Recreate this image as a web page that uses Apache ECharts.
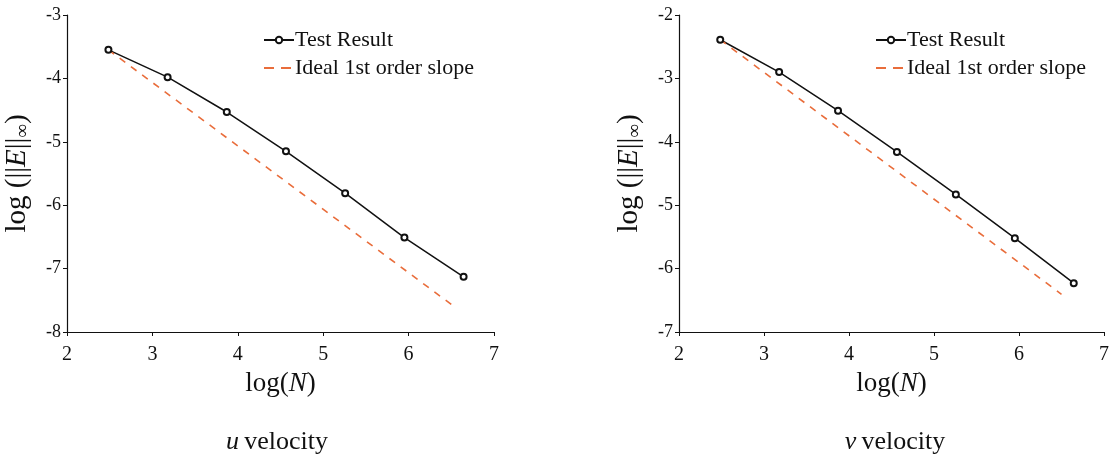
<!DOCTYPE html>
<html>
<head>
<meta charset="utf-8">
<script src="https://cdn.jsdelivr.net/npm/echarts@6/dist/echarts.min.js"></script>
<style>
  html, body { margin: 0; padding: 0; background: #ffffff; }
  #main { width: 1112px; height: 456px; }
</style>
</head>
<body>
<div id="main"></div>
<script>
// log(N) for N = 12, 24, 48, ... 768
var logN = [2.485, 3.178, 3.871, 4.564, 5.257, 5.951, 6.644];
// max error, u velocity
var uErr = [-3.55, -3.98, -4.53, -5.15, -5.81, -6.51, -7.13];
// max error, v velocity
var vErr = [-2.39, -2.90, -3.51, -4.16, -4.83, -5.52, -6.23];
// ideal 1st order reference lines
var slopeX = [2.485, 6.5];
var uSlope = [-3.55, -7.565];
var vSlope = [-2.39, -6.405];

var seriesNames = ["Test Result", "Ideal 1st order slope"];
var panelTitles = ["u", "v"];

var font = "Liberation Serif";
var black = "#111111";
var orange = "#E96D3B";

function pairs(xs, ys) {
    var out = [];
    for (var i = 0; i < xs.length; i++) {
        out.push([xs[i], ys[i]]);
    }
    return out;
}

function xAxisFor(idx) {
    return {
        gridIndex: idx,
        type: "value",
        min: 2,
        max: 7,
        interval: 1,
        name: "{n|log(}{i|N}{n|)}",
        nameLocation: "middle",
        nameGap: 38,
        nameTextStyle: {
            rich: {
                n: { fontFamily: font, fontSize: 27, color: black },
                i: { fontFamily: font, fontSize: 27, fontStyle: "italic", color: black }
            }
        },
        axisLine: { lineStyle: { color: black, width: 1.2 } },
        axisTick: { show: true, length: 4, lineStyle: { color: black } },
        axisLabel: { fontFamily: font, fontSize: 20, color: black, margin: 13 },
        splitLine: { show: false }
    };
}

function yAxisFor(idx, min, max) {
    return {
        gridIndex: idx,
        type: "value",
        min: min,
        max: max,
        interval: 1,
        name: "{n|log (||}{i|E}{n|||}{s|∞}{n|)}",
        nameLocation: "middle",
        nameGap: 34,
        nameTextStyle: {
            rich: {
                n: { fontFamily: font, fontSize: 29, color: black },
                i: { fontFamily: font, fontSize: 29, fontStyle: "italic", color: black },
                s: { fontFamily: font, fontSize: 19, color: black, padding: [12, 0, 0, 0] }
            }
        },
        axisLine: { show: true, lineStyle: { color: black, width: 1.2 } },
        axisTick: { show: true, length: 4, lineStyle: { color: black } },
        axisLabel: { fontFamily: font, fontSize: 18, color: black, margin: 6 },
        splitLine: { show: false }
    };
}

function legendFor(left) {
    return {
        orient: "vertical",
        left: left,
        top: 24,
        itemWidth: 30,
        itemHeight: 8,
        itemGap: 6,
        textStyle: { fontFamily: font, fontSize: 22, color: black, padding: [0, 0, 0, -4] },
        data: [
            { name: seriesNames[0] },
            { name: seriesNames[1], itemStyle: { opacity: 0 }, lineStyle: { type: [10, 7] } }
        ]
    };
}

function titleFor(left, letter) {
    return {
        text: "{i|" + letter + "} {n|velocity}",
        left: left,
        top: 424,
        textAlign: "center",
        textStyle: {
            fontWeight: "normal",
            rich: {
                n: { fontFamily: font, fontSize: 26, fontWeight: "normal", color: black },
                i: { fontFamily: font, fontSize: 26, fontWeight: "normal", fontStyle: "italic", color: black }
            }
        }
    };
}

var myChart = echarts.init(document.getElementById("main"));

var option = {
    backgroundColor: "#ffffff",
    animation: false,
    title: [titleFor(272, panelTitles[0]), titleFor(890, panelTitles[1])],
    legend: [legendFor(258), legendFor(870)],
    grid: [
        { left: 67, right: 618, top: 15, bottom: 124 },
        { left: 679, right: 7, top: 15, bottom: 124 }
    ],
    xAxis: [xAxisFor(0), xAxisFor(1)],
    yAxis: [yAxisFor(0, -8, -3), yAxisFor(1, -7, -2)],
    series: [
        {
            name: seriesNames[0],
            type: "line",
            xAxisIndex: 0,
            yAxisIndex: 0,
            symbol: "emptyCircle",
            symbolSize: 6,
            lineStyle: { color: black, width: 1.5 },
            itemStyle: { color: black, borderWidth: 1.5 },
            data: pairs(logN, uErr)
        },
        {
            name: seriesNames[1],
            type: "line",
            xAxisIndex: 0,
            yAxisIndex: 0,
            symbol: "none",
            lineStyle: { color: orange, width: 1.6, type: [7, 7] },
            itemStyle: { color: orange },
            data: pairs(slopeX, uSlope)
        },
        {
            name: seriesNames[0],
            type: "line",
            xAxisIndex: 1,
            yAxisIndex: 1,
            symbol: "emptyCircle",
            symbolSize: 6,
            lineStyle: { color: black, width: 1.5 },
            itemStyle: { color: black, borderWidth: 1.5 },
            data: pairs(logN, vErr)
        },
        {
            name: seriesNames[1],
            type: "line",
            xAxisIndex: 1,
            yAxisIndex: 1,
            symbol: "none",
            lineStyle: { color: orange, width: 1.6, type: [7, 7] },
            itemStyle: { color: orange },
            data: pairs(slopeX, vSlope)
        }
    ]
};

myChart.setOption(option);
window.addEventListener("resize", function () {
    myChart.resize();
});
</script>
</body>
</html>
